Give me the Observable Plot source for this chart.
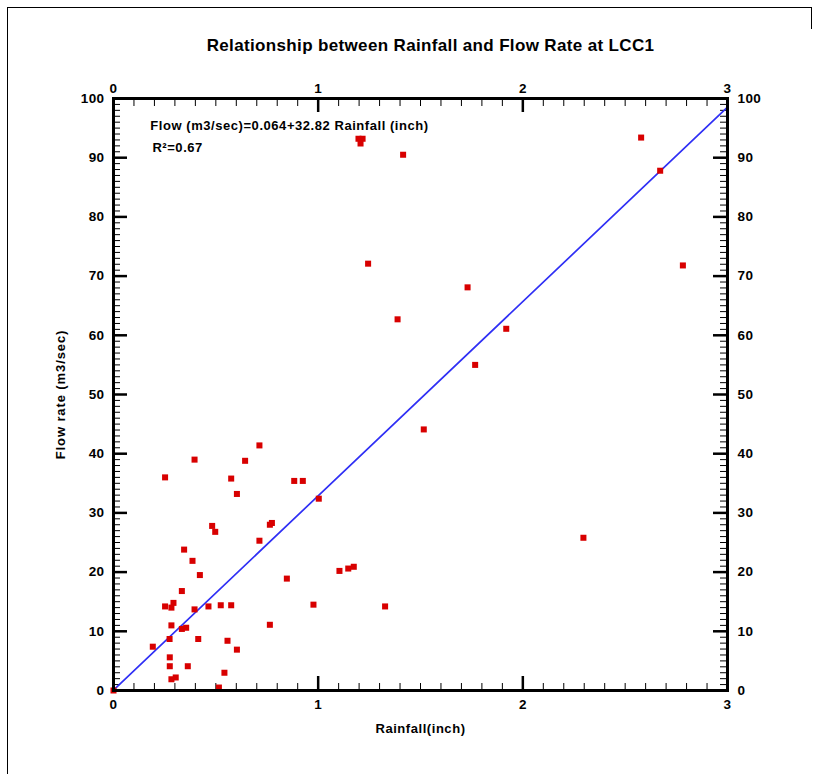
<!DOCTYPE html>
<html>
<head>
<meta charset="utf-8">
<script src="https://cdn.jsdelivr.net/npm/d3@7"></script>
<script src="https://cdn.jsdelivr.net/npm/@observablehq/plot@0.6"></script>
<style>
  html, body { margin: 0; padding: 0; background: #fff; }
  #wrap { position: relative; width: 817px; height: 774px; overflow: hidden; }
  #wrap svg { position: absolute; left: 0; top: 0; }
  .edge { position: absolute; background: #000; }
</style>
</head>
<body>
<div id="wrap">
  <div class="edge" style="left:7px; top:7px; width:1px; height:767px;"></div>
  <div class="edge" style="left:7px; top:7px; width:805px; height:1px;"></div>
  <div class="edge" style="left:811px; top:7px; width:1px; height:22px;"></div>
</div>
<script>
// Observed rainfall (inch) and flow rate (m3/sec) at LCC1
const rainfall = [
  0.000, 0.713, 0.396, 0.643, 0.252, 0.575, 0.883, 0.925, 0.603, 1.003,
  0.482, 0.497, 0.764, 0.774, 0.713, 0.345, 0.386, 0.422, 0.847, 1.104,
  1.147, 1.174, 0.334, 0.252, 0.283, 0.293, 0.396, 0.464, 0.524, 0.575,
  0.977, 0.764, 0.283, 0.334, 0.355, 0.274, 0.414, 0.192, 0.557, 0.603,
  0.275, 0.275, 0.363, 0.542, 0.283, 0.304, 0.515, 1.516, 2.296, 1.327,
  1.197, 1.217, 1.207, 1.415, 1.244, 2.578, 2.671, 2.782, 1.730, 1.919,
  1.767, 1.388
];
const flowRate = [
  0.0, 41.4, 39.0, 38.8, 36.0, 35.8, 35.4, 35.4, 33.2, 32.4,
  27.8, 26.8, 28.0, 28.3, 25.3, 23.8, 21.9, 19.5, 18.9, 20.2,
  20.6, 20.9, 16.8, 14.2, 14.0, 14.8, 13.7, 14.2, 14.4, 14.4,
  14.5, 11.1, 11.0, 10.4, 10.6, 8.7, 8.7, 7.4, 8.4, 6.9,
  5.6, 4.1, 4.1, 3.0, 1.9, 2.2, 0.5, 44.1, 25.8, 14.2,
  93.2, 93.2, 92.4, 90.5, 72.1, 93.4, 87.8, 71.8, 68.1, 61.1,
  55.0, 62.7
];

// Linear fit reported on the chart
const fitIntercept = 0.064;
const fitSlope = 32.82;
const fitRSquared = 0.67;
const fitExtent = [0, 3];

// Axis tick labels
const xTickLabels = [0, 1, 2, 3];
const yTickLabels = [0, 10, 20, 30, 40, 50, 60, 70, 80, 90, 100];
const xMinorTicks = d3.range(0, 31).map(i => i / 10);
const yMinorTicks = d3.range(0, 101);

const titleText = "Relationship between Rainfall and Flow Rate at LCC1";
const xLabel = "Rainfall(inch)";
const yLabel = "Flow rate (m3/sec)";
const fitText = `Flow (m3/sec)=${fitIntercept}+${fitSlope} Rainfall (inch)`;
const r2Text = `R²=${fitRSquared}`;

const points = rainfall.map((r, i) => ({rainfall: r, flow: flowRate[i]}));
const fitLine = fitExtent.map(x => ({rainfall: x, flow: fitIntercept + fitSlope * x}));

const W = 817, H = 774;
const mTop = 98, mRight = 90, mBottom = 84, mLeft = 113;
const innerW = W - mLeft - mRight;
const innerH = H - mTop - mBottom;
const font = "'Liberation Sans', Arial, Helvetica, sans-serif";
const minorLen = 7, majorLen = 14;
const tickFont = 13.5;

const chart = Plot.plot({
  width: W,
  height: H,
  marginTop: mTop,
  marginRight: mRight,
  marginBottom: mBottom,
  marginLeft: mLeft,
  style: {fontFamily: font, fontSize: "13px", fontWeight: "bold", background: "transparent", color: "#000"},
  x: {domain: [0, 3], axis: null},
  y: {domain: [0, 100], axis: null},
  marks: [
    // tick labels on all four sides
    Plot.axisX(xTickLabels, {anchor: "bottom", tickSize: 0, tickPadding: 9, tickFormat: d => String(d), label: null, fontSize: tickFont, fontWeight: "bold"}),
    Plot.axisX(xTickLabels, {anchor: "top", tickSize: 0, tickPadding: 6, tickFormat: d => String(d), label: null, fontSize: tickFont, fontWeight: "bold"}),
    Plot.axisY(yTickLabels, {anchor: "left", tickSize: 0, tickPadding: 9, tickFormat: d => String(d), label: null, fontSize: tickFont, fontWeight: "bold"}),
    Plot.axisY(yTickLabels, {anchor: "right", tickSize: 0, tickPadding: 10, tickFormat: d => String(d), label: null, fontSize: tickFont, fontWeight: "bold"}),

    // inward-pointing minor ticks
    Plot.tickX(xMinorTicks, {x: d => d, insetTop: innerH - minorLen, stroke: "#000", strokeWidth: 1}),
    Plot.tickX(xMinorTicks, {x: d => d, insetBottom: innerH - minorLen - 1, stroke: "#000", strokeWidth: 1}),
    Plot.tickY(yMinorTicks, {y: d => d, insetRight: innerW - minorLen, stroke: "#000", strokeWidth: 1}),
    Plot.tickY(yMinorTicks, {y: d => d, insetLeft: innerW - minorLen, stroke: "#000", strokeWidth: 1}),

    // inward-pointing major ticks
    Plot.tickX(xTickLabels, {x: d => d, insetTop: innerH - majorLen, stroke: "#000", strokeWidth: 2.5}),
    Plot.tickX(xTickLabels, {x: d => d, insetBottom: innerH - majorLen, stroke: "#000", strokeWidth: 2.5}),
    Plot.tickY(yTickLabels, {y: d => d, insetRight: innerW - majorLen, stroke: "#000", strokeWidth: 2.5}),
    Plot.tickY(yTickLabels, {y: d => d, insetLeft: innerW - majorLen, stroke: "#000", strokeWidth: 2.5}),

    // regression line
    Plot.line(fitLine, {x: "rainfall", y: "flow", stroke: "#2f2ff5", strokeWidth: 1.7}),

    // observations
    Plot.dot(points, {x: "rainfall", y: "flow", symbol: "square", r: 3.4, fill: "#d80000", stroke: "none"}),

    // frame
    Plot.frame({stroke: "#000", strokeWidth: 3}),

    // fit annotation
    Plot.text([fitText], {x: 0.18, y: 95.3, textAnchor: "start", lineAnchor: "middle", fontSize: 13, fontWeight: "bold", fill: "#000"}),
    Plot.text([r2Text], {x: 0.19, y: 91.6, textAnchor: "start", lineAnchor: "middle", fontSize: 13, fontWeight: "bold", fill: "#000"}),

    // title and axis labels
    Plot.text([titleText], {frameAnchor: "top", dy: -53, dx: 10, textAnchor: "middle", lineAnchor: "middle", fontSize: 17, fontWeight: "bold", fill: "#000"}),
    Plot.text([xLabel], {frameAnchor: "bottom", dy: 38, textAnchor: "middle", lineAnchor: "middle", fontSize: 13, fontWeight: "bold", fill: "#000"}),
    Plot.text([yLabel], {frameAnchor: "left", dx: -53, rotate: -90, textAnchor: "middle", lineAnchor: "middle", fontSize: 13, fontWeight: "bold", fill: "#000"})
  ]
});

// open up the letter spacing of the bold labels
const spacing = new Map([
  [titleText, "0.35px"],
  [fitText, "0.55px"],
  [r2Text, "0.55px"],
  [xLabel, "0.55px"],
  [yLabel, "0.9px"]
]);
d3.select(chart).selectAll("text").each(function() {
  const t = this.textContent;
  if (spacing.has(t)) this.style.letterSpacing = spacing.get(t);
  else if (/^\d+$/.test(t)) this.style.letterSpacing = "0.4px";
});

document.getElementById("wrap").prepend(chart);
</script>
</body>
</html>
